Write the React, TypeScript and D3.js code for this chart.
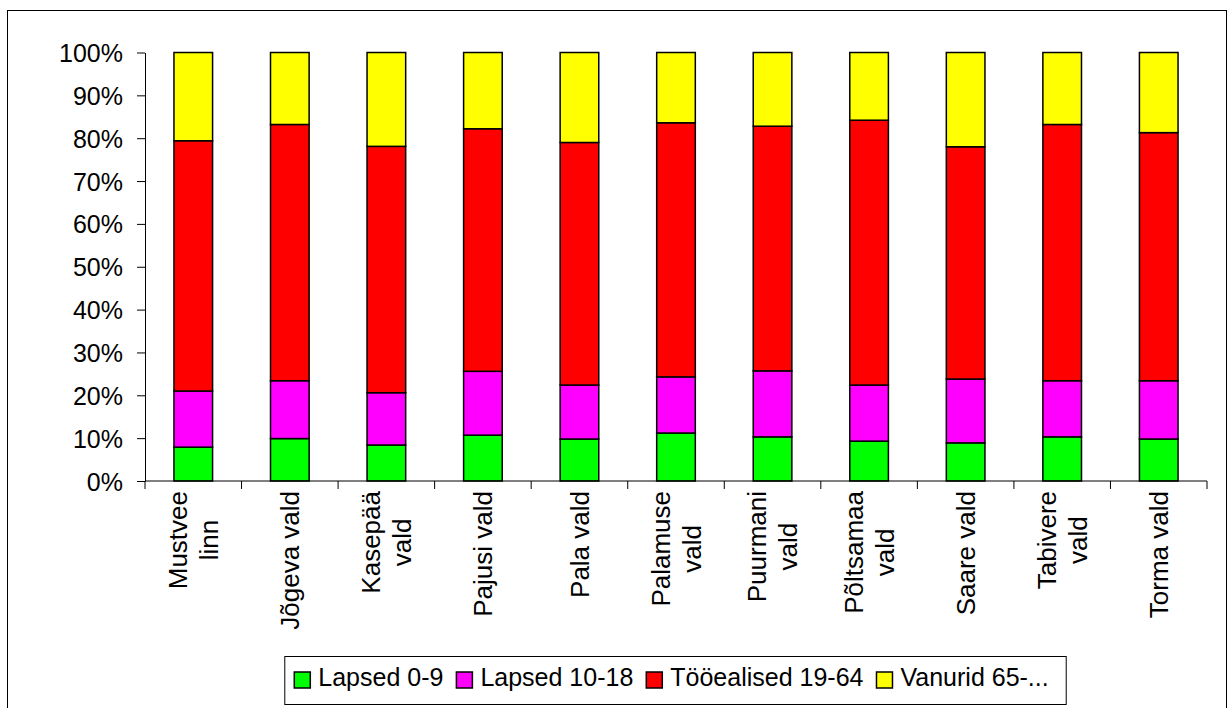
import React, { useEffect, useRef } from 'react';
import * as d3 from 'd3';

// Categories (municipalities) – "\n" marks the line break in the axis label
const categories = [
  'Mustvee\nlinn',
  'Jõgeva vald',
  'Kasepää\nvald',
  'Pajusi vald',
  'Pala vald',
  'Palamuse\nvald',
  'Puurmani\nvald',
  'Põltsamaa\nvald',
  'Saare vald',
  'Tabivere\nvald',
  'Torma vald'
];

// Shares of population in percent
const lapsed09 = [7.9, 9.9, 8.4, 10.7, 9.8, 11.2, 10.3, 9.3, 8.9, 10.3, 9.8];
const lapsed1018 = [13.1, 13.5, 12.2, 14.9, 12.6, 13.1, 15.4, 13.1, 14.9, 13.1, 13.6];
const tooealised = [58.4, 59.8, 57.5, 56.6, 56.6, 59.3, 57.1, 61.8, 54.2, 59.8, 57.9];
const vanurid = [20.6, 16.8, 21.9, 17.8, 21.0, 16.4, 17.2, 15.8, 22.0, 16.8, 18.7];

const seriesNames = ['Lapsed 0-9', 'Lapsed 10-18', 'Tööealised 19-64', 'Vanurid 65-...'];
const seriesColors = ['#00ff00', '#ff00ff', '#ff0000', '#ffff00'];

const yTicks = [0, 0.1, 0.2, 0.3, 0.4, 0.5, 0.6, 0.7, 0.8, 0.9, 1];

const FONT = '"Liberation Sans", Arial, sans-serif';

const measure = (text: string, size: number): number => {
  const canvas = document.createElement('canvas');
  const ctx = canvas.getContext('2d');
  if (!ctx) return text.length * size * 0.5;
  ctx.font = `${size}px "Liberation Sans", Arial, sans-serif`;
  return ctx.measureText(text).width;
};

const App: React.FC = () => {
  const svgRef = useRef<SVGSVGElement>(null);
  const width = 1229;
  const height = 708;

  useEffect(() => {
    if (!svgRef.current) return;
    const svg = d3.select(svgRef.current);
    svg.selectAll('*').remove();

    const plot = { left: 145, right: 1207, top: 52.5, bottom: 481 };

    // Outer chart border
    svg.append('rect')
      .attr('x', 7.5)
      .attr('y', 10.5)
      .attr('width', 1219)
      .attr('height', 720)
      .attr('fill', '#fff')
      .attr('stroke', '#000')
      .attr('stroke-width', 1);

    const x = d3.scaleBand<string>()
      .domain(categories)
      .range([plot.left, plot.right])
      .padding(0);

    const y = d3.scaleLinear()
      .domain([0, 1])
      .range([plot.bottom, plot.top]);

    const rows = categories.map((c, i) => ({
      cat: c,
      s0: lapsed09[i],
      s1: lapsed1018[i],
      s2: tooealised[i],
      s3: vanurid[i]
    }));

    const stack = d3.stack<any>()
      .keys(['s0', 's1', 's2', 's3'])
      .offset(d3.stackOffsetExpand);
    const stacked = stack(rows);

    const barW = x.bandwidth() * 0.4;

    // Bars
    stacked.forEach((layer, si) => {
      svg.append('g')
        .selectAll('rect')
        .data(layer)
        .enter()
        .append('rect')
        .attr('x', d => (x(d.data.cat) || 0) + (x.bandwidth() - barW) / 2)
        .attr('y', d => y(d[1]))
        .attr('width', barW)
        .attr('height', d => y(d[0]) - y(d[1]))
        .attr('fill', seriesColors[si])
        .attr('stroke', '#000')
        .attr('stroke-width', 1.5);
    });

    // Y axis
    const yAxis = svg.append('g')
      .attr('transform', `translate(${plot.left},0)`)
      .call(
        d3.axisLeft(y)
          .tickValues(yTicks)
          .tickFormat(d3.format('.0%') as any)
          .tickSize(8)
          .tickSizeOuter(0)
          .tickPadding(14)
      );
    yAxis.selectAll('text')
      .attr('font-family', FONT)
      .attr('font-size', 25)
      .attr('fill', '#000')
      .attr('dy', '0.36em');
    yAxis.selectAll('line').attr('stroke', '#000');
    yAxis.select('.domain').attr('stroke', '#000');

    // X axis line + category boundary ticks
    svg.append('line')
      .attr('x1', plot.left)
      .attr('x2', plot.right)
      .attr('y1', plot.bottom)
      .attr('y2', plot.bottom)
      .attr('stroke', '#000');

    const bounds = categories.map(c => x(c) || 0).concat([plot.right]);
    svg.append('g')
      .selectAll('line')
      .data(bounds)
      .enter()
      .append('line')
      .attr('x1', d => d)
      .attr('x2', d => d)
      .attr('y1', plot.bottom)
      .attr('y2', plot.bottom + 8)
      .attr('stroke', '#000');

    // Rotated category labels
    const labelSize = 26;
    const lineH = 31;
    categories.forEach(c => {
      const lines = c.split('\n');
      const maxW = d3.max(lines, l => measure(l, labelSize)) || 0;
      const cx = (x(c) || 0) + x.bandwidth() / 2;
      const t = svg.append('text')
        .attr('transform', `translate(${cx},${plot.bottom + 10}) rotate(-90)`)
        .attr('font-family', FONT)
        .attr('font-size', labelSize)
        .attr('fill', '#000')
        .attr('text-anchor', 'middle');
      lines.forEach((l, i) => {
        t.append('tspan')
          .attr('x', -maxW / 2)
          .attr('y', (i - (lines.length - 1) / 2) * lineH + labelSize * 0.36)
          .text(l);
      });
    });

    // Legend
    const legSize = 25;
    const sq = 16;
    const gapSq = 8;
    const gapItem = 13;
    const widths = seriesNames.map(n => measure(n, legSize));
    const contentW = d3.sum(widths) + seriesNames.length * (sq + gapSq) + (seriesNames.length - 1) * gapItem;
    const padL = 10;
    const padR = 17;
    const boxW = contentW + padL + padR;
    const boxX = 675 - boxW / 2;
    const boxY = 656;
    const boxH = 48;

    svg.append('rect')
      .attr('x', boxX + 0.5)
      .attr('y', boxY + 0.5)
      .attr('width', boxW)
      .attr('height', boxH)
      .attr('fill', '#fff')
      .attr('stroke', '#000');

    let cursor = boxX + padL;
    seriesNames.forEach((n, i) => {
      svg.append('rect')
        .attr('x', cursor)
        .attr('y', boxY + 16)
        .attr('width', sq)
        .attr('height', sq)
        .attr('fill', seriesColors[i])
        .attr('stroke', '#000')
        .attr('stroke-width', 1.5);
      svg.append('text')
        .attr('x', cursor + sq + gapSq)
        .attr('y', boxY + 30)
        .attr('font-family', FONT)
        .attr('font-size', legSize)
        .attr('fill', '#000')
        .text(n);
      cursor += sq + gapSq + widths[i] + gapItem;
    });
  }, []);

  return (
    <svg
      ref={svgRef}
      width={width}
      height={height}
      style={{ position: 'absolute', left: 0, top: 0, background: '#fff' }}
    />
  );
};

export default App;
